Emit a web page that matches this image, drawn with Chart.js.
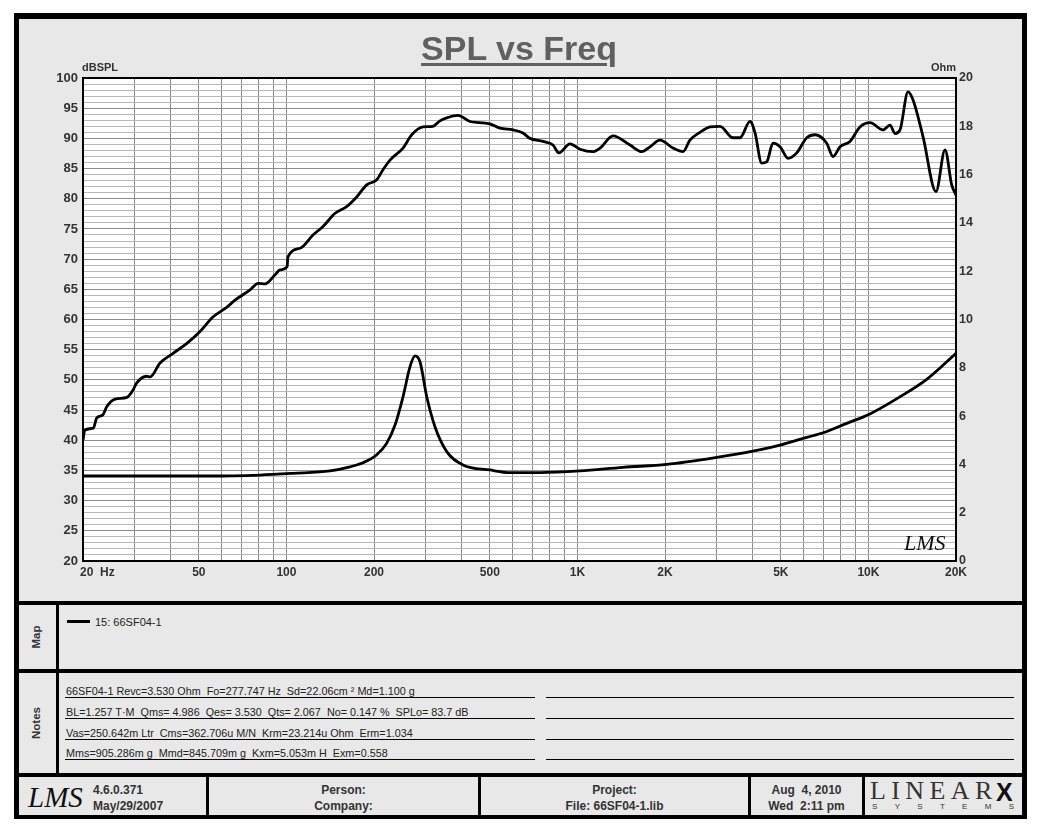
<!DOCTYPE html>
<html>
<head>
<meta charset="utf-8">
<script src="https://cdn.jsdelivr.net/npm/chart.js@4.4.1/dist/chart.umd.min.js"></script>
<style>
html,body{margin:0;padding:0;background:#fff;width:1040px;height:832px;overflow:hidden;font-family:"Liberation Sans",Arial,sans-serif;}
.a{position:absolute;}
.blk{background:#000;}
.pn{background:#e8e8e8;}
.t{position:absolute;line-height:1;white-space:pre;color:#333;}
.b{font-weight:bold;}
.rot{position:absolute;line-height:1;font-weight:bold;font-size:11.5px;color:#333;transform:translate(-50%,-50%) rotate(-90deg);white-space:pre;}
.nl{position:absolute;height:1px;background:#000;}
.ft{position:absolute;top:777px;height:38px;background:#e8e8e8;}
.fc{position:absolute;left:0;right:0;text-align:center;line-height:1;font-weight:bold;font-size:12px;color:#333;white-space:pre;}
</style>
</head>
<body>
<div class="a blk" style="left:14px;top:13px;width:1013px;height:806px;"></div>
<div class="a pn" style="left:19px;top:19px;width:1003px;height:582px;"></div>
<div class="a pn" style="left:19px;top:605px;width:37px;height:64px;"></div>
<div class="a pn" style="left:59px;top:605px;width:963px;height:64px;"></div>
<div class="a pn" style="left:19px;top:673px;width:37px;height:100px;"></div>
<div class="a pn" style="left:59px;top:673px;width:963px;height:100px;"></div>

<canvas id="c" class="a" style="left:19px;top:19px;width:1003px;height:582px;" width="1003" height="582"></canvas>

<div class="t b" style="left:0;width:1038px;text-align:center;top:31px;font-size:34px;color:#606060;"><span style="text-decoration:underline;text-decoration-thickness:3px;text-underline-offset:3px;">SPL vs Freq</span></div>
<div class="t b" style="left:82px;top:62px;font-size:11px;">dBSPL</div>
<div class="t b" style="left:900px;width:56px;text-align:right;top:62px;font-size:11px;">Ohm</div>
<div class="t" style="left:904px;top:532px;font-size:22px;font-style:italic;font-family:'Liberation Serif',serif;color:#111;">LMS</div>

<div class="rot" style="left:37px;top:637px;">Map</div>
<div class="a blk" style="left:67px;top:620px;width:23px;height:3px;"></div>
<div class="t" id="legendText" style="left:95px;top:617px;font-size:11px;color:#222;"></div>

<div class="rot" style="left:37px;top:723px;">Notes</div>
<div id="notes"></div>

<div class="ft" style="left:19px;width:187px;">
  <div class="t" style="left:9px;top:6px;font-size:29px;font-style:italic;font-family:'Liberation Serif',serif;color:#111;">LMS</div>
  <div class="t b" style="left:74px;top:6.6px;font-size:12px;">4.6.0.371</div>
  <div class="t b" style="left:74px;top:23px;font-size:12px;">May/29/2007</div>
</div>
<div class="ft" style="left:209px;width:269px;">
  <div class="fc" style="top:6.6px;">Person:</div>
  <div class="fc" style="top:23px;">Company:</div>
</div>
<div class="ft" style="left:481px;width:267px;">
  <div class="fc" style="top:6.6px;">Project:</div>
  <div class="fc" style="top:23px;">File: 66SF04-1.lib</div>
</div>
<div class="ft" style="left:751px;width:111px;">
  <div class="fc" style="top:6.6px;">Aug  4, 2010</div>
  <div class="fc" style="top:23px;">Wed  2:11 pm</div>
</div>
<div class="ft" style="left:865px;width:157px;">
  <div class="t" style="left:5px;top:1.2px;font-size:26px;font-family:'Liberation Serif',serif;letter-spacing:5.4px;color:#333;">LINEAR</div>
  <div class="t b" style="left:131px;top:2.5px;font-size:25px;color:#111;">X</div>
  <div class="a" style="left:7px;top:25.5px;width:142px;display:flex;justify-content:space-between;font-size:8px;line-height:1;color:#333;">
    <span>S</span><span>Y</span><span>S</span><span>T</span><span>E</span><span>M</span><span>S</span>
  </div>
</div>

<script>
// ---- data ----
const xGridValues = [20,30,40,50,60,70,80,90,100,200,300,400,500,600,700,800,900,1000,2000,3000,4000,5000,6000,7000,8000,9000,10000,20000];
const xTickValues = [20,50,100,200,500,1000,2000,5000,10000,20000];
const xTickLabels = ['20  Hz','50','100','200','500','1K','2K','5K','10K','20K'];

const splFreq = [20,20.3,21.7,22.3,23.4,24.1,25.8,28.3,29.7,30.6,33.1,34.0,36.8,40.8,45.4,50.5,55.9,62.3,66.6,75,80,84.4,91.4,95,100.5,101.3,111.4,123.4,133.6,147,161,174.4,188.8,204,214.8,227,251.6,269.6,294.7,319,337,355.6,388.8,427.6,462.8,500,542,600.8,650,687,761.6,824,864,943,1021,1131,1196,1325,1516,1664,1776,1922,2130,2306,2436,2638,2856,3090,3426,3620,3920,4078,4298,4472,4700,4970,5294,5672,6138,6554,7190,7558,7990,8646,9354,10126,11224,11864,12344,12842,13680,14230,15404,17072,18336,19330,20000];
const splValues = [40.0,41.7,42.0,43.7,44.2,45.5,46.8,47.1,48.3,49.5,50.6,50.5,52.8,54.4,56.0,58.0,60.4,62.0,63.2,64.9,66.0,65.9,67.4,68.2,68.7,70.4,71.8,74.0,75.4,77.6,78.7,80.3,82.3,83.1,84.8,86.4,88.4,90.6,91.9,92.0,92.9,93.4,93.8,92.8,92.6,92.4,91.7,91.4,90.9,90.0,89.5,88.9,87.6,89.1,88.2,87.8,88.4,90.4,88.9,87.8,88.6,89.7,88.4,87.8,89.7,91.0,91.9,92.0,90.1,90.1,92.8,90.9,85.9,86.1,89.2,88.6,86.7,87.6,90.1,90.6,89.2,87.0,88.6,89.5,91.9,92.6,91.4,92.2,90.8,91.4,97.7,96.4,90.3,81.2,88.1,82.3,80.6];

const impFreq = [20,30,40,54.6,81.1,105.4,141.2,165.4,183.4,204,221,236.2,251.6,266,276.6,287.8,303.6,324,355.6,404.4,500,586.8,743.8,1021,1435,2027,3012,4012,4970,6138,6998,8424,10126,12842,15862,20000];
const impValues = [3.52,3.52,3.52,3.52,3.56,3.63,3.73,3.9,4.07,4.39,4.87,5.63,6.8,8.05,8.49,8.25,6.8,5.56,4.53,3.98,3.77,3.66,3.66,3.73,3.88,4.0,4.29,4.55,4.8,5.12,5.31,5.7,6.09,6.8,7.52,8.6];

const seriesName = '15: 66SF04-1';
const notesLeft = [
  '66SF04-1 Revc=3.530 Ohm  Fo=277.747 Hz  Sd=22.06cm \u00b2 Md=1.100 g',
  'BL=1.257 T\u00b7M  Qms= 4.986  Qes= 3.530  Qts= 2.067  No= 0.147 %  SPLo= 83.7 dB',
  'Vas=250.642m Ltr  Cms=362.706u M/N  Krm=23.214u Ohm  Erm=1.034',
  'Mms=905.286m g  Mmd=845.709m g  Kxm=5.053m H  Exm=0.558'
];

// ---- html text ----
document.getElementById('legendText').textContent = seriesName;
const noteLineY = [697,718,739,759];
const notesEl = document.getElementById('notes');
notesLeft.forEach((txt,i)=>{
  const y = noteLineY[i];
  const l1 = document.createElement('div'); l1.className='nl'; l1.style.cssText=`left:65px;width:470px;top:${y}px;`; notesEl.appendChild(l1);
  const l2 = document.createElement('div'); l2.className='nl'; l2.style.cssText=`left:546px;width:468px;top:${y}px;`; notesEl.appendChild(l2);
  const t = document.createElement('div'); t.className='t'; t.style.cssText=`left:66px;top:${y-11}px;font-size:10.8px;color:#222;`; t.textContent = txt; notesEl.appendChild(t);
});

// ---- chart ----
const FONT = '"Liberation Sans", Arial, sans-serif';
Chart.defaults.font.family = FONT;

const framePlugin = {
  id: 'frame',
  beforeDraw(chart){
    const {ctx, chartArea:a} = chart;
    ctx.save(); ctx.fillStyle = '#ffffff'; ctx.fillRect(a.left, a.top, a.width, a.height); ctx.restore();
  },
  afterDraw(chart){
    const {ctx, chartArea:a} = chart;
    const xs = chart.scales.x;
    ctx.save();
    ctx.strokeStyle = '#000'; ctx.lineWidth = 2;
    ctx.strokeRect(a.left, a.top, a.width, a.height);
    ctx.fillStyle = '#333';
    ctx.font = 'bold 12px ' + FONT;
    ctx.textBaseline = 'middle';
    xTickValues.forEach((v,i)=>{
      const px = xs.getPixelForValue(v);
      if (i === 0) { ctx.textAlign = 'left'; ctx.fillText(xTickLabels[i], px - 3, a.bottom + 12); }
      else { ctx.textAlign = 'center'; ctx.fillText(xTickLabels[i], px, a.bottom + 12); }
    });
    ctx.restore();
  }
};

new Chart(document.getElementById('c'), {
  type: 'line',
  data: {
    datasets: [
      { label: seriesName + ' SPL', yAxisID: 'y',
        data: splFreq.map((f,i)=>({x:f, y:splValues[i]})),
        borderColor: '#000', borderWidth: 2.8, pointRadius: 0, fill: false, cubicInterpolationMode: 'monotone' },
      { label: seriesName + ' Impedance', yAxisID: 'y1',
        data: impFreq.map((f,i)=>({x:f, y:impValues[i]})),
        borderColor: '#000', borderWidth: 2.8, pointRadius: 0, fill: false, cubicInterpolationMode: 'monotone' }
    ]
  },
  options: {
    responsive: false, animation: false,
    layout: { padding: { top: 59, left: 0, right: 0, bottom: 0 } },
    plugins: { legend: { display: false }, tooltip: { enabled: false }, title: { display: false } },
    scales: {
      x: {
        type: 'logarithmic', min: 20, max: 20000,
        afterBuildTicks: s => { s.ticks = xGridValues.map(v => ({ value: v })); },
        ticks: { display: false, autoSkip: false },
        grid: { color: '#8c8c8c', lineWidth: 1, drawTicks: false },
        border: { display: false },
        afterFit: s => { s.height = 40; }
      },
      y: {
        position: 'left', min: 20, max: 100,
        ticks: { stepSize: 1, autoSkip: false, padding: 5, color: '#333',
                 font: { size: 13, weight: 'bold' },
                 callback: v => (Math.round(v) % 5 === 0 ? String(Math.round(v)) : '') },
        grid: { drawTicks: false, lineWidth: 1,
                color: c => (c.tick && Math.round(c.tick.value) % 5 === 0 ? '#8c8c8c' : '#b8b8b8') },
        border: { display: false },
        afterFit: s => { s.width = 64; }
      },
      y1: {
        position: 'right', min: 0, max: 20,
        ticks: { stepSize: 2, autoSkip: false, padding: 3, color: '#333',
                 font: { size: 12.5, weight: 'bold' } },
        grid: { drawOnChartArea: false, drawTicks: false },
        border: { display: false },
        afterFit: s => { s.width = 66; }
      }
    }
  },
  plugins: [framePlugin]
});
</script>
</body>
</html>
